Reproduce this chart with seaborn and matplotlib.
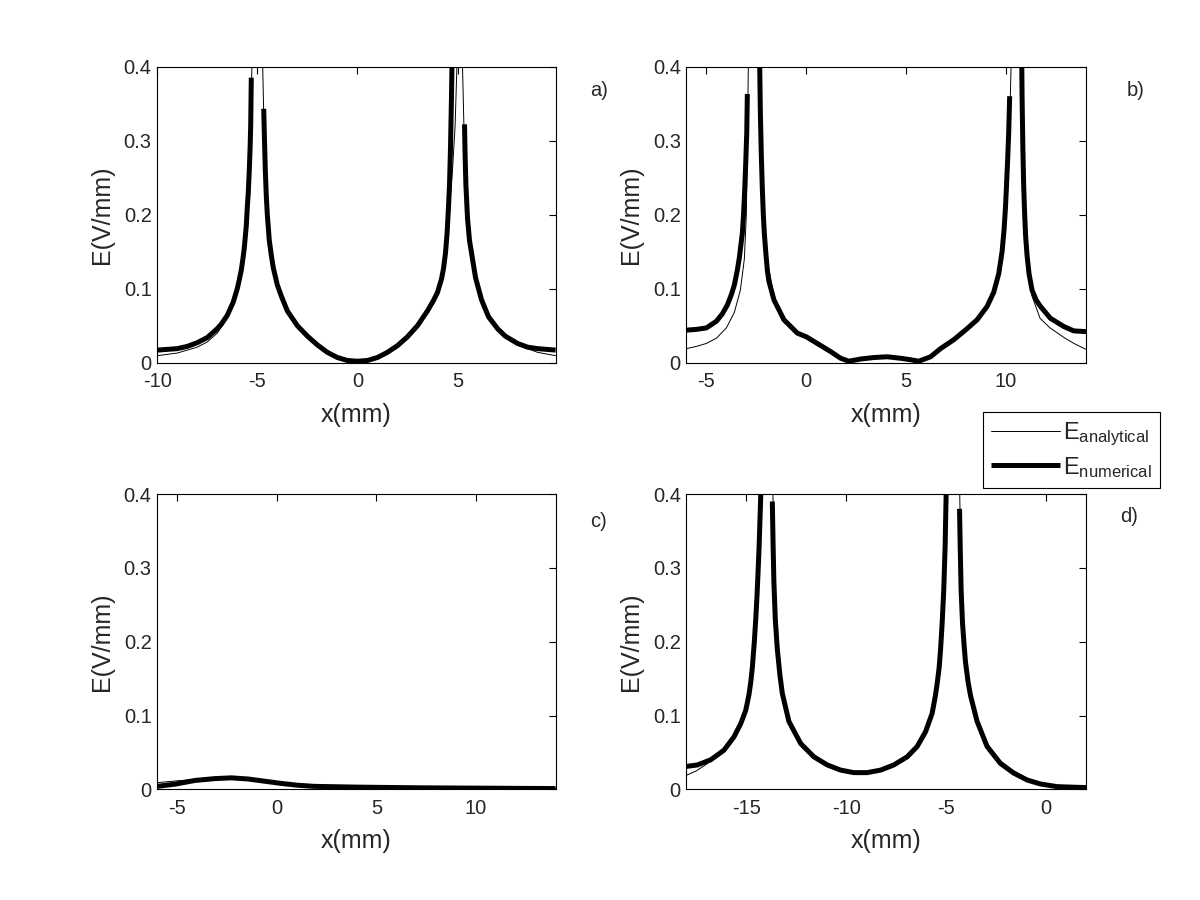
import numpy as np
import pandas as pd
import matplotlib
matplotlib.use('Agg')
import matplotlib.pyplot as plt
import seaborn as sns
from matplotlib.lines import Line2D
from matplotlib.ticker import FuncFormatter

nan = float('nan')

# panel a) -- numerical branches separated by nan
a_num_x = [-10, -9, -8.5, -8, -7.5, -7, -6.8, -6.5, -6.35, -6.2, -6.0, -5.9, -5.8, -5.72, -5.65, -5.55, -5.5, -5.45,
           -5.4, -5.36, -5.33, -5.3, nan,
           -4.68, -4.64, -4.6, -4.55, -4.5, -4.4, -4.3, -4.2, -4.0, -3.8, -3.5, -3.0, -2.5, -2.0, -1.5, -1.0, -0.5, 0,
           0.5, 1.0, 1.5, 2.0, 2.5, 3.0, 3.5, 3.8, 4.0, 4.2, 4.3, 4.4, 4.48, 4.55, 4.6, 4.65, 4.7, 4.74, nan,
           5.35, 5.38, 5.42, 5.5, 5.6, 5.72, 5.9, 6.2, 6.55, 7.0, 7.38, 8.0, 8.5, 9.0, 9.9]
a_num_e = [0.017, 0.019, 0.022, 0.027, 0.034, 0.046, 0.052, 0.064, 0.073, 0.082, 0.100, 0.112, 0.125, 0.14, 0.155, 0.185, 0.21, 0.23,
           0.26, 0.29, 0.32, 0.385, nan,
           0.343, 0.30, 0.26, 0.225, 0.2, 0.165, 0.145, 0.128, 0.105, 0.09, 0.070, 0.050, 0.036, 0.024, 0.014, 0.007, 0.003, 0.002,
           0.003, 0.007, 0.014, 0.023, 0.035, 0.050, 0.070, 0.084, 0.095, 0.113, 0.127, 0.148, 0.175, 0.21, 0.24, 0.29, 0.36, 0.43, nan,
           0.322, 0.28, 0.24, 0.195, 0.165, 0.145, 0.115, 0.085, 0.062, 0.046, 0.036, 0.026, 0.021, 0.019, 0.017]
a_ana_x = [-10, -9, -8, -7.5, -7, -6.5, -6, -5.8, -5.6, -5.45, -5.35, -5.27, -5.0, -4.73, -4.65, -4.55, -4.4, -4.2, -4.0,
           -3.5, -3.0, -2.5, -2.0, -1.5, -1.0, -0.5, 0, 0.5, 1.0, 1.5, 2.0, 2.5, 3.0, 3.5, 4.0, 4.3, 4.55, 4.75, 4.88,
           4.97, 5.1, 5.25, 5.32, 5.45, 5.7, 6.0, 6.5, 7.0, 7.5, 8, 9, 9.9]
a_ana_e = [0.0095, 0.013, 0.021, 0.028, 0.040, 0.060, 0.098, 0.125, 0.165, 0.22, 0.30, 0.40, 0.7, 0.40, 0.30, 0.22, 0.165, 0.128, 0.104,
           0.069, 0.049, 0.035, 0.023, 0.013, 0.006, 0.002, 0.0, 0.002, 0.006, 0.013, 0.022, 0.034, 0.049, 0.069, 0.094, 0.13, 0.19, 0.26, 0.32,
           0.40, 0.7, 0.40, 0.32, 0.21, 0.15, 0.11, 0.064, 0.045, 0.033, 0.024, 0.014, 0.0095]

# panel b)
b_num_x = [-6, -5.5, -5, -4.5, -4.2, -3.95, -3.75, -3.6, -3.45, -3.35, -3.2, -3.14, -3.08, -3.03, -2.98, -2.95, nan,
           -2.34, -2.3, -2.25, -2.2, -2.15, -2.1, -2.03, -1.95, -1.87, -1.62, -1.12, -0.45, 0, 0.55, 1.22, 1.72, 2.13,
           2.72, 3.38, 4.05, 4.72, 5.22, 5.63, 6.22, 6.72, 7.38, 8.05, 8.55, 9.05, 9.38, 9.63, 9.8, 9.9, 9.97, 10.03,
           10.08, 10.13, 10.18, nan,
           10.78, 10.8, 10.84, 10.88, 10.93, 10.98, 11.05, 11.15, 11.3, 11.5, 11.72, 12.22, 12.88, 13.38, 14]
b_num_e = [0.044, 0.045, 0.047, 0.056, 0.066, 0.078, 0.092, 0.105, 0.125, 0.142, 0.175, 0.2, 0.235, 0.27, 0.31, 0.363, nan,
           0.42, 0.34, 0.28, 0.235, 0.2, 0.175, 0.15, 0.125, 0.11, 0.085, 0.058, 0.040, 0.035, 0.026, 0.015, 0.006, 0.002,
           0.005, 0.007, 0.008, 0.006, 0.004, 0.002, 0.008, 0.019, 0.031, 0.046, 0.058, 0.076, 0.095, 0.12, 0.15, 0.18, 0.21, 0.245,
           0.275, 0.31, 0.36, nan,
           0.42, 0.36, 0.29, 0.24, 0.2, 0.17, 0.145, 0.12, 0.098, 0.085, 0.076, 0.060, 0.049, 0.043, 0.042]
b_ana_x = [-6, -5.5, -5, -4.5, -4, -3.6, -3.3, -3.1, -3.0, -2.9, -2.62, -2.33, -2.25, -2.1, -1.9, -1.6, -1.1, -0.5, 0, 0.5,
           1.2, 1.7, 2.1, 2.7, 3.4, 4.0, 4.7, 5.2, 5.6, 6.2, 6.7, 7.4, 8.0, 8.5, 9.0, 9.4, 9.7, 9.9, 10.1, 10.25, 10.52,
           10.8, 10.9, 11.05, 11.3, 11.7, 12.2, 12.9, 13.4, 14]
b_ana_e = [0.019, 0.022, 0.026, 0.033, 0.047, 0.068, 0.098, 0.14, 0.20, 0.40, 0.7, 0.40, 0.27, 0.175, 0.13, 0.088, 0.058, 0.040, 0.034, 0.026,
           0.015, 0.006, 0.002, 0.005, 0.007, 0.008, 0.006, 0.004, 0.002, 0.008, 0.019, 0.031, 0.046, 0.058, 0.074, 0.095, 0.125, 0.16, 0.24, 0.40, 0.7,
           0.40, 0.24, 0.14, 0.09, 0.060, 0.047, 0.034, 0.026, 0.018]

# panel c)
c_num_x = [-6, -5.1, -4.1, -3.1, -2.28, -1.45, -0.62, 0.22, 1.05, 1.88, 3.9, 7.2, 10.5, 14]
c_num_e = [0.004, 0.007, 0.012, 0.0145, 0.0155, 0.014, 0.011, 0.008, 0.0055, 0.004, 0.003, 0.002, 0.0015, 0.001]
c_ana_x = [-6, -5, -4, -3, -2.28, -1.45, -0.6, 0.2, 1.0, 2.0, 4, 7, 10, 14]
c_ana_e = [0.009, 0.0115, 0.0135, 0.015, 0.0155, 0.0145, 0.0115, 0.0085, 0.006, 0.004, 0.0028, 0.0018, 0.0012, 0.0008]

# panel d)
d_num_x = [-18, -17.45, -16.78, -16.12, -15.62, -15.28, -15.03, -14.87, -14.78, -14.7, -14.6, -14.53, -14.47, -14.42, -14.36,
           -14.3, -14.22, nan,
           -13.7, -13.66, -13.62, -13.55, -13.45, -13.32, -13.2, -12.87, -12.28, -11.62, -10.95, -10.28, -9.62, -8.95, -8.28,
           -7.62, -6.95, -6.45, -6.03, -5.7, -5.55, -5.45, -5.35, -5.28, -5.2, -5.12, -5.05, -5.0, -4.95, nan,
           -4.33, -4.29, -4.25, -4.18, -4.1, -4.03, -3.9, -3.78, -3.45, -2.95, -2.28, -1.62, -0.95, -0.28, 0.55, 2]
d_num_e = [0.031, 0.033, 0.040, 0.053, 0.071, 0.089, 0.107, 0.128, 0.145, 0.165, 0.2, 0.23, 0.26, 0.29, 0.33,
           0.38, 0.45, nan,
           0.39, 0.33, 0.28, 0.23, 0.19, 0.155, 0.13, 0.092, 0.062, 0.044, 0.033, 0.026, 0.0226, 0.0226, 0.026,
           0.033, 0.044, 0.058, 0.078, 0.103, 0.125, 0.143, 0.165, 0.189, 0.225, 0.27, 0.33, 0.40, 0.45, nan,
           0.38, 0.32, 0.27, 0.225, 0.195, 0.172, 0.145, 0.127, 0.092, 0.058, 0.035, 0.022, 0.0126, 0.0072, 0.0036, 0.0023]
d_ana_x = [-18, -17.5, -17, -16.5, -16, -15.6, -15.28, -15.03, -14.8, -14.6, -14.45, -14.3, -14.0, -13.67, -13.6, -13.45,
           -13.2, -12.87, -12.28, -11.62, -10.95, -10.28, -9.62, -8.95, -8.28, -7.62, -6.95, -6.45, -6.03, -5.7, -5.45,
           -5.28, -5.12, -4.98, -4.65, -4.32, -4.25, -4.03, -3.78, -3.45, -2.95, -2.28, -1.62, -0.95, -0.28, 0.55, 2]
d_ana_e = [0.019, 0.025, 0.034, 0.045, 0.058, 0.071, 0.089, 0.107, 0.145, 0.2, 0.27, 0.40, 0.7, 0.40, 0.30, 0.19,
           0.13, 0.092, 0.062, 0.044, 0.033, 0.026, 0.0226, 0.0226, 0.026, 0.033, 0.044, 0.058, 0.078, 0.103, 0.143,
           0.189, 0.27, 0.40, 0.7, 0.40, 0.29, 0.18, 0.13, 0.094, 0.062, 0.038, 0.025, 0.015, 0.0085, 0.004, 0.0022]

panel_labels = ['a)', 'b)', 'c)', 'd)']
xlims = [(-10, 9.9), (-6, 14), (-6, 14), (-18, 2)]
xticks = [[-10, -5, 0, 5], [-5, 0, 5, 10], [-5, 0, 5, 10], [-15, -10, -5, 0]]
yticks = [0, 0.1, 0.2, 0.3, 0.4]


def to_frame(xs, es):
    df = pd.DataFrame({'x': xs, 'E': es})
    df['seg'] = df['E'].isna().cumsum()
    return df.dropna()


sns.set_style('white')
plt.rcParams['font.family'] = ['Liberation Sans', 'DejaVu Sans']
plt.rcParams['mathtext.fontset'] = 'custom'
plt.rcParams['mathtext.rm'] = 'Liberation Sans'
plt.rcParams['mathtext.it'] = 'Liberation Sans'
plt.rcParams['axes.unicode_minus'] = False

fig = plt.figure(figsize=(12, 9), dpi=100)
rects = [[0.131, 0.597, 0.332, 0.329], [0.572, 0.597, 0.333, 0.329],
         [0.131, 0.123, 0.332, 0.328], [0.572, 0.123, 0.333, 0.328]]
curves = [(a_num_x, a_num_e, a_ana_x, a_ana_e), (b_num_x, b_num_e, b_ana_x, b_ana_e),
          (c_num_x, c_num_e, c_ana_x, c_ana_e), (d_num_x, d_num_e, d_ana_x, d_ana_e)]
label_pos = [(0.499, 0.900), (0.946, 0.900), (0.499, 0.421), (0.941, 0.426)]

for i in range(4):
    ax = fig.add_axes(rects[i])
    nx, ne, ax_x, ax_e = curves[i]
    sns.lineplot(data=to_frame(nx, ne), x='x', y='E', units='seg', estimator=None, sort=False,
                 color='black', linewidth=3.6, solid_capstyle='butt', ax=ax)
    sns.lineplot(data=to_frame(ax_x, ax_e), x='x', y='E', units='seg', estimator=None, sort=False,
                 color='black', linewidth=0.7, ax=ax)
    ax.set_xlim(*xlims[i])
    ax.set_ylim(0, 0.4)
    ax.set_xticks(xticks[i])
    ax.set_yticks(yticks)
    ax.yaxis.set_major_formatter(FuncFormatter(lambda v, p: '%g' % v))
    ax.tick_params(direction='in', top=True, right=True, length=5, width=0.8,
                   labelsize=14.5, color='black')
    ax.tick_params(axis='x', pad=7)
    ax.tick_params(axis='y', pad=4)
    for s in ax.spines.values():
        s.set_color('black')
        s.set_linewidth(0.8)
    ax.set_xlabel('x(mm)', fontsize=18, labelpad=8)
    ax.set_ylabel('E(V/mm)', fontsize=18, labelpad=7)
    fig.text(label_pos[i][0], label_pos[i][1], panel_labels[i], fontsize=14.5, ha='center', va='center')

handles = [Line2D([], [], color='black', linewidth=0.7),
           Line2D([], [], color='black', linewidth=3.6, solid_capstyle='butt')]
leg = fig.legend(handles, [r'$\mathrm{E}_{\mathrm{analytical}}$', r'$\mathrm{E}_{\mathrm{numerical}}$'],
                 loc='upper left', bbox_to_anchor=(983 / 1200, 1 - 412 / 900), fontsize=17,
                 fancybox=False, framealpha=1, edgecolor='black', borderaxespad=0,
                 handlelength=2.9, handletextpad=0.15, borderpad=0.35, labelspacing=0.3)
leg.get_frame().set_linewidth(0.8)

fig.savefig('out.png', dpi=100)
